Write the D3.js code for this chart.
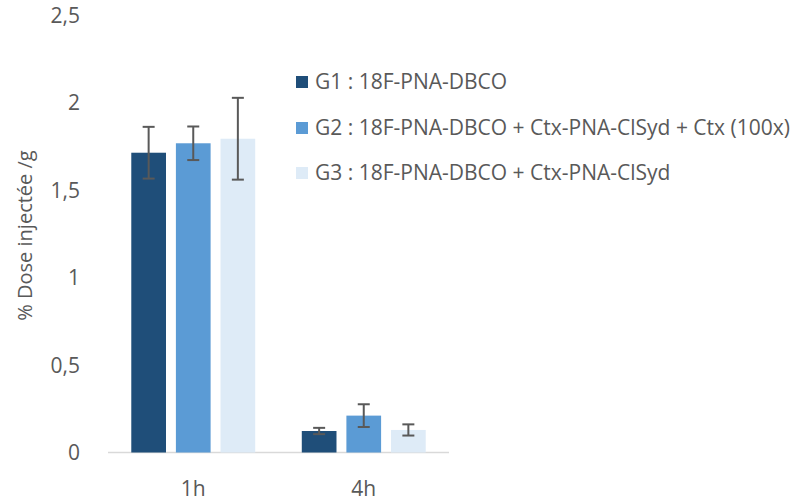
<!DOCTYPE html>
<html><head><meta charset="utf-8">
<script src="https://cdn.jsdelivr.net/npm/d3@7"></script>
<style>body{margin:0;background:#fff}svg{display:block}text{font-family:"Open Sans",sans-serif;fill:#595959}</style>
</head><body><div id="chart"></div>
<script>
const categories = ["1h", "4h"];
const seriesNames = ["G1 : 18F-PNA-DBCO", "G2 : 18F-PNA-DBCO + Ctx-PNA-ClSyd + Ctx (100x)", "G3 : 18F-PNA-DBCO + Ctx-PNA-ClSyd"];
const g1Values = [1.715, 0.123];
const g2Values = [1.769, 0.211];
const g3Values = [1.795, 0.129];
const g1Errors = [0.148, 0.018];
const g2Errors = [0.096, 0.065];
const g3Errors = [0.234, 0.032];
const yTicks = [0, 0.5, 1, 1.5, 2, 2.5];
const yTickLabels = ["0", "0,5", "1", "1,5", "2", "2,5"];
const colors = ["#1f4e79", "#5b9bd5", "#deebf7"];
const yTitle = "% Dose injectée /g";

const W = 791, H = 502;
const svg = d3.select("#chart").append("svg").attr("width", W).attr("height", H);
const x0 = d3.scaleBand().domain(categories).range([108, 449]).paddingInner(0).paddingOuter(0);
const y = d3.scaleLinear().domain([0, 2.5]).range([452.5, 15.5]);
const series = [
  {name: seriesNames[0], values: g1Values, errors: g1Errors, color: colors[0]},
  {name: seriesNames[1], values: g2Values, errors: g2Errors, color: colors[1]},
  {name: seriesNames[2], values: g3Values, errors: g3Errors, color: colors[2]}
];
const x1 = d3.scaleBand().domain([0,1,2]).range([0, x0.bandwidth()]).paddingInner(0.222).paddingOuter(0.522);

// baseline
svg.append("line").attr("x1", 108).attr("x2", 449).attr("y1", y(0)).attr("y2", y(0))
  .attr("stroke", "#d9d9d9").attr("stroke-width", 1.5);

// y ticks
svg.append("g").selectAll("text").data(yTicks).join("text")
  .attr("x", 80).attr("y", d => y(d)).attr("dy", "0.36em")
  .attr("text-anchor", "end").attr("font-size", 21).text((d,i) => yTickLabels[i]);

// y title
svg.append("text").attr("transform", `translate(32,235.5) rotate(-90)`)
  .attr("text-anchor", "middle").attr("font-size", 20).text(yTitle);

// x labels
svg.append("g").selectAll("text").data(categories).join("text")
  .attr("x", d => x0(d) + x0.bandwidth()/2).attr("y", 496)
  .attr("text-anchor", "middle").attr("font-size", 21).text(d => d);

// bars
series.forEach((s, si) => {
  const g = svg.append("g");
  g.selectAll("rect").data(categories).join("rect")
    .attr("x", c => x0(c) + x1(si)).attr("width", x1.bandwidth())
    .attr("y", (c,i) => y(s.values[i])).attr("height", (c,i) => y(0) - y(s.values[i]))
    .attr("fill", s.color);
});
// error bars
series.forEach((s, si) => {
  const g = svg.append("g").attr("stroke", "#595959").attr("stroke-width", 2);
  categories.forEach((c, i) => {
    const cx = x0(c) + x1(si) + x1.bandwidth()/2;
    const top = y(s.values[i] + s.errors[i]), bot = y(s.values[i] - s.errors[i]);
    g.append("line").attr("x1", cx).attr("x2", cx).attr("y1", top).attr("y2", bot);
    g.append("line").attr("x1", cx-6).attr("x2", cx+6).attr("y1", top).attr("y2", top);
    g.append("line").attr("x1", cx-6).attr("x2", cx+6).attr("y1", bot).attr("y2", bot);
  });
});

// legend
const legBase = [89, 135, 180];
const leg = svg.append("g");
series.forEach((s, i) => {
  leg.append("rect").attr("x", 296).attr("y", legBase[i]-13).attr("width", 12).attr("height", 12).attr("fill", s.color);
  leg.append("text").attr("x", 315).attr("y", legBase[i])
    .attr("font-size", 21).text(s.name);
});
</script></body></html>
